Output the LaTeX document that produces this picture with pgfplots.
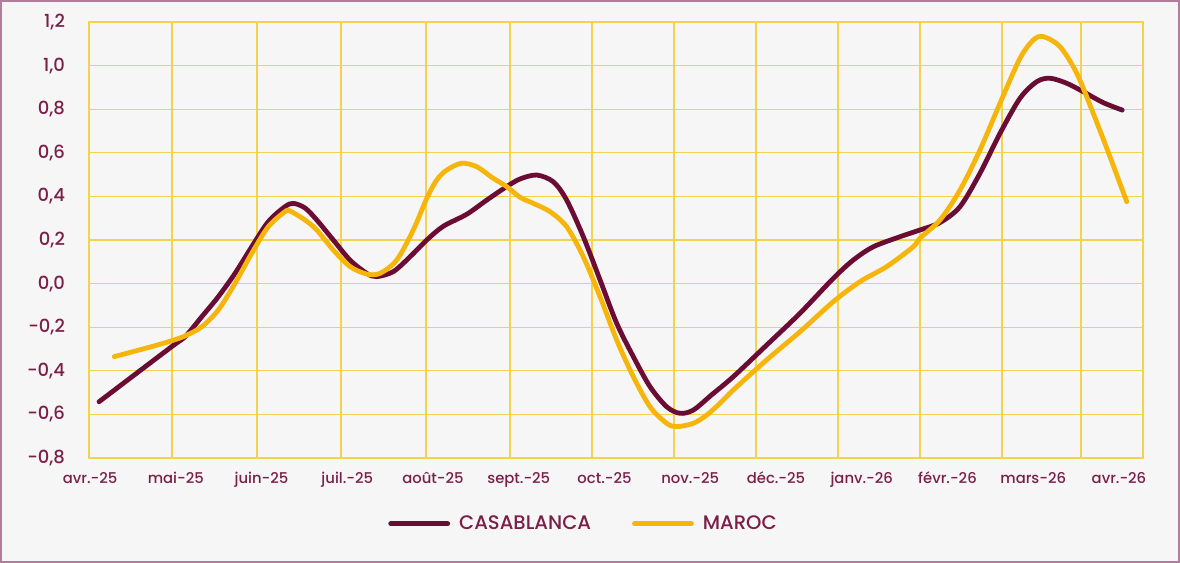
\documentclass[border=0pt]{standalone}
\usepackage{pgfplots}
\pgfplotsset{compat=1.18}
\usepackage{fontspec}
\setmainfont{Poppins}
\newfontfamily\medfont{Poppins Medium}
\definecolor{casa}{HTML}{6B0C35}
\definecolor{maroc}{HTML}{F6B50A}
\definecolor{gridcol}{HTML}{F3D34E}
\definecolor{txtcol}{HTML}{7B1E48}
\definecolor{bgcol}{HTML}{F6F6F6}
\definecolor{bordercol}{HTML}{B27C9C}
\pgfplotstableread{
x y
0.105 -0.542
0.953 -0.289
1.108 -0.244
1.303 -0.152
1.496 -0.060
1.691 0.047
1.886 0.169
2.079 0.284
2.274 0.353
2.371 0.368
2.507 0.347
2.644 0.292
2.837 0.200
3.032 0.108
3.227 0.047
3.343 0.032
3.537 0.055
3.732 0.123
3.927 0.200
4.120 0.263
4.393 0.318
4.626 0.383
4.859 0.445
5.015 0.480
5.209 0.498
5.403 0.467
5.559 0.383
5.753 0.215
5.948 0.017
6.142 -0.182
6.336 -0.335
6.531 -0.473
6.725 -0.565
6.880 -0.595
7.036 -0.580
7.250 -0.510
7.502 -0.427
7.891 -0.282
8.280 -0.136
8.668 0.024
8.901 0.108
9.135 0.169
9.446 0.215
9.679 0.246
9.913 0.280
10.146 0.353
10.379 0.506
10.612 0.689
10.845 0.850
11.040 0.926
11.195 0.942
11.390 0.919
11.584 0.880
11.817 0.830
12.038 0.796
}\casatab
\pgfplotstableread{
x y
0.283 -0.335
0.720 -0.289
0.953 -0.262
1.108 -0.240
1.303 -0.198
1.496 -0.121
1.691 0.001
1.886 0.139
2.079 0.261
2.274 0.330
2.332 0.333
2.507 0.292
2.644 0.246
2.837 0.154
3.032 0.078
3.227 0.044
3.382 0.047
3.577 0.108
3.770 0.246
3.927 0.391
4.043 0.475
4.160 0.521
4.334 0.552
4.510 0.536
4.703 0.483
4.859 0.445
5.015 0.396
5.170 0.368
5.364 0.330
5.559 0.261
5.753 0.123
5.948 -0.060
6.142 -0.259
6.336 -0.427
6.531 -0.565
6.725 -0.641
6.842 -0.656
7.036 -0.641
7.192 -0.603
7.347 -0.549
7.502 -0.488
7.891 -0.350
8.280 -0.221
8.668 -0.083
8.980 0.009
9.291 0.078
9.601 0.169
9.679 0.208
9.913 0.292
10.146 0.429
10.379 0.613
10.612 0.827
10.845 1.033
11.000 1.117
11.117 1.133
11.312 1.087
11.507 0.965
11.700 0.781
11.895 0.582
12.090 0.376
}\maroctab
\begin{document}
\begin{tikzpicture}
\fill[bgcol] (0pt,0pt) rectangle (590pt,281.5pt);
\draw[bordercol, line width=1.2pt] (0.6pt,0.6pt) rectangle (589.4pt,280.9pt);
\begin{axis}[
  at={(44.5pt,52.5pt)}, anchor=south west,
  scale only axis, width=527pt, height=218pt,
  xmin=-0.012, xmax=12.28, ymin=-0.8, ymax=1.2,
  axis line style={gridcol, line width=0.65pt},
  major tick length=0pt,
  xtick={0,1,2,3,4,5,6,7,8,9,10,11,12},
  xticklabels={avr.-25,mai-25,juin-25,juil.-25,août-25,sept.-25,oct.-25,nov.-25,déc.-25,janv.-26,févr.-26,mars-26,avr.-26},
  ytick={-0.8,-0.6,-0.4,-0.2,0,0.2,0.4,0.6,0.8,1.0,1.2},
  yticklabels={{-0,8},{-0,6},{-0,4},{-0,2},{0,0},{0,2},{0,4},{0,6},{0,8},{1,0},{1,2}},
  ymajorgrids=true,
  major grid style={gridcol, line width=0.65pt},
  extra x ticks={0.956,1.948,2.927,3.918,4.898,5.854,6.810,7.767,8.723,9.679,10.636,11.557},
  extra x tick labels={},
  extra x tick style={grid=major, major grid style={gridcol, line width=0.65pt}},
  yticklabel style={font=\medfont\fontsize{9}{10}\selectfont, text=txtcol, xshift=-8.5pt},
  xticklabel style={font=\medfont\fontsize{7.4}{8}\selectfont, text=txtcol, yshift=-3.5pt},
  legend columns=2,
  legend style={at={(axis description cs:0.4725,-0.151)}, anchor=center, draw=none, fill=none,
    font=\medfont\fontsize{9.8}{11}\selectfont, text=txtcol,
    /tikz/every even column/.append style={column sep=16pt},
    nodes={inner sep=4.5pt}},
  legend image code/.code={\draw[#1, line cap=round] (0pt,0pt) -- (28.5pt,0pt);},
  legend cell align=left,
]
\addplot[casa, line width=2.4pt, smooth, line cap=round, line join=round] table[x=x,y=y] {\casatab};
\addlegendentry{CASABLANCA}
\addplot[maroc, line width=2.4pt, smooth, line cap=round, line join=round] table[x=x,y=y] {\maroctab};
\addlegendentry{MAROC}
\end{axis}
\end{tikzpicture}
\end{document}
